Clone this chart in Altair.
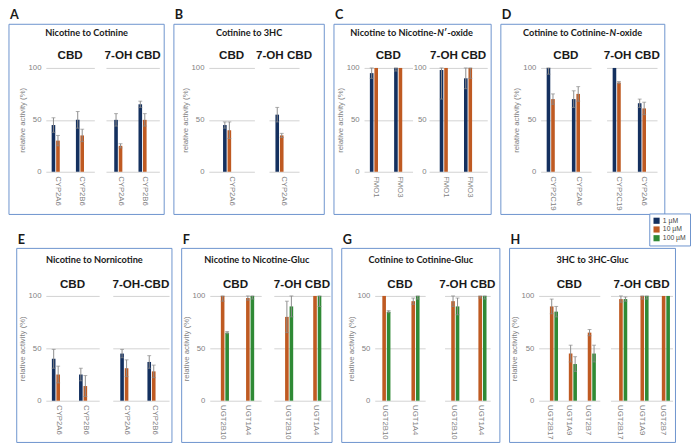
import altair as alt
import pandas as pd

# ---------------- data ----------------
CONC_ALL = ["1 µM", "10 µM", "100 µM"]
CONC_COLORS = ["#14305f", "#bf5a22", "#2f8a35"]
CONC_LOW = ["1 µM", "10 µM"]
CONC_HIGH = ["10 µM", "100 µM"]

# values listed enzyme by enzyme, concentration inside
A_TITLE = "Nicotine to Cotinine"
A_GROUPS = ["CBD", "7-OH CBD"]
A_ENZ = ["CYP2A6", "CYP2B6"]
A_CBD = [45, 30, 50, 35]
A_CBD_ERR = [7, 5, 8, 6]
A_OH = [50, 25, 65, 50]
A_OH_ERR = [6, 2, 3, 6]

B_TITLE = "Cotinine to 3HC"
B_GROUPS = ["CBD", "7-OH CBD"]
B_ENZ = ["CYP2A6"]
B_CBD = [45, 40]
B_CBD_ERR = [3, 8]
B_OH = [55, 35]
B_OH_ERR = [7, 2]

C_TITLE = ["Nicotine to Nicotine-", "N", "′-oxide"]
C_GROUPS = ["CBD", "7-OH CBD"]
C_ENZ = ["FMO1", "FMO3"]
C_CBD = [95, 100, 100, 100]
C_CBD_ERR = [5, 0, 3, 0]
C_OH = [98, 100, 90, 100]
C_OH_ERR = [28, 0, 10, 10]

D_TITLE = ["Cotinine to Cotinine-", "N", "-oxide"]
D_GROUPS = ["CBD", "7-OH CBD"]
D_ENZ = ["CYP2C19", "CYP2A6"]
D_CBD = [100, 70, 70, 75]
D_CBD_ERR = [6, 5, 8, 7]
D_OH = [100, 86, 66, 61]
D_OH_ERR = [0, 1, 4, 6]

E_TITLE = "Nicotine to Nornicotine"
E_GROUPS = ["CBD", "7-OH-CBD"]
E_ENZ = ["CYP2A6", "CYP2B6"]
E_CBD = [40, 25, 25, 14]
E_CBD_ERR = [9, 8, 6, 10]
E_OH = [45, 31, 37, 28]
E_OH_ERR = [4, 8, 6, 6]

F_TITLE = "Nicotine to Nicotine-Gluc"
F_GROUPS = ["CBD", "7-OH CBD"]
F_ENZ = ["UGT2B10", "UGT1A4"]
F_CBD = [100, 65, 98, 100]
F_CBD_ERR = [5, 1, 2, 3]
F_OH = [80, 90, 100, 100]
F_OH_ERR = [15, 10, 0, 10]

G_TITLE = "Cotinine to Cotinine-Gluc"
G_GROUPS = ["CBD", "7-OH CBD"]
G_ENZ = ["UGT2B10", "UGT1A4"]
G_CBD = [100, 85, 95, 100]
G_CBD_ERR = [0, 1, 3, 3]
G_OH = [95, 90, 100, 100]
G_OH_ERR = [5, 8, 2, 3]

H_TITLE = "3HC to 3HC-Gluc"
H_GROUPS = ["CBD", "7-OH CBD"]
H_ENZ = ["UGT2B17", "UGT1A9", "UGT2B7"]
H_CBD = [90, 85, 45, 35, 65, 45]
H_CBD_ERR = [7, 5, 8, 7, 3, 8]
H_OH = [97, 97, 100, 100, 100, 100]
H_OH_ERR = [3, 2, 3, 3, 0, 0]

# ---------------- style / layout ----------------
FONT = "Liberation Sans"
TFONT = "Lato"
GRAY = "#7f7f7f"
BOX = "#6a92cc"
ERRC = "#8a8a8a"

TOP = dict(h=107, T=45, Bm=44, ty=-36, sy=-13)
BOT = dict(h=108, T=49, Bm=43, ty=-37, sy=-12)


def table(enz, conc, vals, errs):
    rows = []
    k = 0
    for e in enz:
        for c in conc:
            rows.append({"enz": e, "conc": c, "v": vals[k], "e": errs[k]})
            k += 1
    return pd.DataFrame(rows)


def one(text):
    return pd.DataFrame({"t": [text]})


def sub(df, enz, conc, w, h, step, show_labels, show_title, label_pad, extras):
    n = len(enz)
    pi = 0.48
    po = max(0.0, (w / step - n + pi) / 2)
    xs = alt.Scale(domain=enz, paddingInner=pi, paddingOuter=po)
    ys = alt.Scale(domain=[0, 100], clamp=True, nice=False)
    xo = alt.XOffset("conc:N", scale=alt.Scale(domain=conc, paddingInner=0.2))
    ytitle = "relative  activity (%)" if show_title else None
    yaxis = alt.Axis(values=[0, 50, 100], grid=True, gridColor="#d2d2d2", gridWidth=1,
                     domain=False, ticks=False, labels=show_labels,
                     labelColor=GRAY, labelFontSize=8, labelFont=FONT,
                     labelPadding=label_pad, titlePadding=2,
                     titleFontSize=8, titleFont=FONT, titleFontWeight="normal",
                     titleColor=GRAY)
    xaxis = alt.Axis(labelAngle=90, domain=False, ticks=False, labelColor=GRAY,
                     labelFontSize=8, labelFont=FONT, labelPadding=4)
    bars = alt.Chart(df).mark_bar().encode(
        x=alt.X("enz:N", scale=xs, axis=xaxis, title=None, sort=enz),
        xOffset=xo,
        y=alt.Y("v:Q", scale=ys, axis=yaxis, title=ytitle),
        color=alt.Color("conc:N", scale=alt.Scale(domain=CONC_ALL, range=CONC_COLORS),
                        legend=alt.Legend(title=None)),
    )
    base = alt.Chart(df).transform_filter("datum.e > 0").transform_calculate(
        lo="datum.v - datum.e", hi="datum.v + datum.e")
    xe = alt.X("enz:N", title=None, sort=enz)
    rule = base.mark_rule(color=ERRC, strokeWidth=1).encode(
        x=xe, xOffset=alt.XOffset("conc:N"),
        y=alt.Y("lo:Q", title=ytitle), y2="hi:Q")
    cap_lo = base.mark_tick(color=ERRC, thickness=1, size=4).encode(
        x=xe, xOffset=alt.XOffset("conc:N"), y=alt.Y("lo:Q", title=ytitle))
    cap_hi = base.mark_tick(color=ERRC, thickness=1, size=4).encode(
        x=xe, xOffset=alt.XOffset("conc:N"), y=alt.Y("hi:Q", title=ytitle))
    return alt.layer(bars, rule, cap_lo, cap_hi, *extras).properties(width=w, height=h)


def text_layer(text, x, y, size, weight, font, align="center", baseline="middle",
               color="#1a1a1a", style="normal"):
    return alt.Chart(one(text)).mark_text(
        fontSize=size, fontWeight=weight, font=font, align=align, baseline=baseline,
        color=color, fontStyle=style
    ).encode(text="t:N", x=alt.value(x), y=alt.value(y))


def title_layers(title, cx, y, anchor_dx):
    if isinstance(title, str):
        return [text_layer(title, cx, y, 9.5, "bold", TFONT)]
    left, ital, right = title
    xn = cx + anchor_dx
    return [
        text_layer(left, xn, y, 9.5, "bold", TFONT, align="right"),
        text_layer(ital, xn + 0.5, y, 9.5, "bold", TFONT, align="left", style="italic"),
        text_layer(right, xn + 7.5, y, 9.5, "bold", TFONT, align="left"),
    ]


def panel(letter, title, groups, enz, conc, cbd, cbd_err, oh, oh_err, geo, row, anchor_dx=0):
    L, w1, sp, w2, R, s1, s2, lab2 = geo
    h, T, Bm = row["h"], row["T"], row["Bm"]
    right = w1 + sp + w2 + R
    box = alt.Chart(one("box")).mark_rect(fill="transparent", stroke=BOX, strokeWidth=1).encode(
        x=alt.value(-L), x2=alt.value(right), y=alt.value(-T), y2=alt.value(h + Bm))
    extras1 = [box] + title_layers(title, (right - L) / 2, row["ty"], anchor_dx) + [
        text_layer(groups[0], w1 / 2, row["sy"], 12, "bold", FONT),
        text_layer(letter, -L + 1, -T - 2, 13, "bold", TFONT, align="left", baseline="bottom"),
    ]
    extras2 = [text_layer(groups[1], w2 / 2, row["sy"], 12, "bold", FONT)]
    s_a = sub(table(enz, conc, cbd, cbd_err), enz, conc, w1, h, s1, True, True, 5, extras1)
    s_b = sub(table(enz, conc, oh, oh_err), enz, conc, w2, h, s2, lab2, False, 3, extras2)
    return alt.hconcat(s_a, s_b, spacing=sp, bounds="flush")


# geo: L, w1, spacing, w2, R, step1, step2, labels on second group
pA = panel("A", A_TITLE, A_GROUPS, A_ENZ, CONC_LOW, A_CBD, A_CBD_ERR, A_OH, A_OH_ERR,
           (38, 50, 12, 55, 5, 25, 25, False), TOP)
pB = panel("B", B_TITLE, B_GROUPS, B_ENZ, CONC_LOW, B_CBD, B_CBD_ERR, B_OH, B_OH_ERR,
           (36, 47, 15, 31, 26, 34, 34, False), TOP)
pC = panel("C", C_TITLE, C_GROUPS, C_ENZ, CONC_LOW, C_CBD, C_CBD_ERR, C_OH, C_OH_ERR,
           (31, 50, 17, 60, 4, 25, 25, True), TOP, anchor_dx=25)
pD = panel("D", D_TITLE, D_GROUPS, D_ENZ, CONC_LOW, D_CBD, D_CBD_ERR, D_OH, D_OH_ERR,
           (41, 52, 16, 52, 8, 26, 26, False), TOP, anchor_dx=27)
pE = panel("E", E_TITLE, E_GROUPS, E_ENZ, CONC_LOW, E_CBD, E_CBD_ERR, E_OH, E_OH_ERR,
           (30, 55, 14, 58, 3, 28, 28, False), BOT)
pF = panel("F", F_TITLE, F_GROUPS, F_ENZ, CONC_HIGH, F_CBD, F_CBD_ERR, F_OH, F_OH_ERR,
           (29, 53, 13, 58, 2, 26, 29, False), BOT)
pG = panel("G", G_TITLE, G_GROUPS, G_ENZ, CONC_HIGH, G_CBD, G_CBD_ERR, G_OH, G_OH_ERR,
           (34, 52, 20, 47, 10, 30, 28, False), BOT)
pH = panel("H", H_TITLE, H_GROUPS, H_ENZ, CONC_HIGH, H_CBD, H_CBD_ERR, H_OH, H_OH_ERR,
           (30, 63, 11, 64, 3, 19.5, 22, False), BOT)

row1 = alt.hconcat(pA, pB, pC, pD, spacing=8)
row2 = alt.hconcat(pE, pF, pG, pH, spacing=8)

chart = alt.vconcat(row1, row2, spacing=18,
                    padding={"left": 0, "top": -6, "right": 0, "bottom": 0}).configure_view(
    stroke="transparent"
).configure_legend(
    orient="none", legendX=622, legendY=150,
    symbolType="square", symbolSize=40, symbolStrokeWidth=0,
    labelFontSize=7, labelFont=FONT, labelColor="#444", labelOffset=3,
    rowPadding=1, padding=4, strokeColor=BOX, fillColor="white",
).configure_concat(spacing=8)

chart.save("out.html", embed_options={"renderer": "svg", "actions": False})
